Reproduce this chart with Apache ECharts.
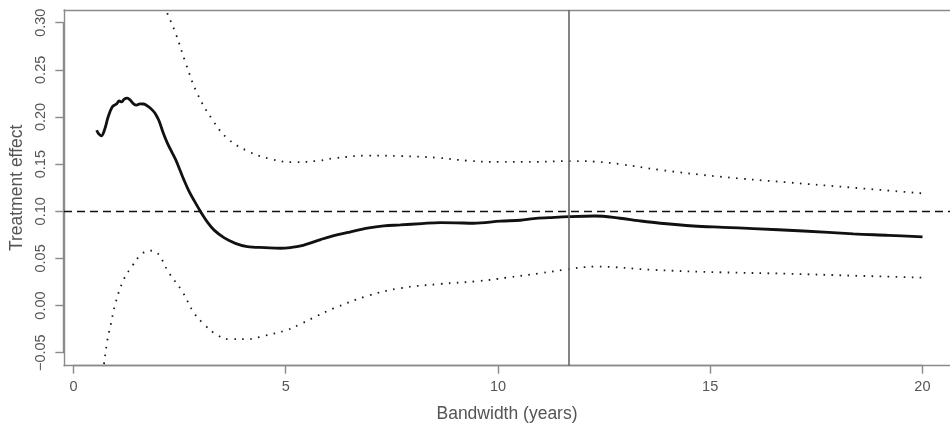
<!DOCTYPE html>
<html>
<head>
<meta charset="utf-8">
<script src="https://cdn.jsdelivr.net/npm/echarts@6/dist/echarts.min.js"></script>
<style>
  html, body { margin: 0; padding: 0; background: #fff; }
  #chart { width: 950px; height: 428px; }
</style>
</head>
<body>
<div id="chart"></div>
<script>
// ---- data ----
const estX = [0.53,0.58,0.64,0.72,0.80,0.90,1.00,1.06,1.12,1.18,1.25,1.32,1.40,1.47,1.55,1.64,1.75,1.85,1.92,2.00,2.10,2.20,2.30,2.39,2.50,2.59,2.70,2.82,2.98,3.15,3.30,3.53,3.80,4.08,4.50,4.86,5.10,5.34,5.81,6.04,6.50,6.91,7.30,7.69,8.20,8.63,9.00,9.42,10.05,10.52,10.83,11.20,11.66,12.28,12.87,13.30,13.82,14.60,15.30,16.01,17.19,18.37,19.20,20.00];
const estY = [0.186,0.182,0.180,0.187,0.200,0.211,0.214,0.217,0.216,0.219,0.220,0.218,0.214,0.2127,0.214,0.2138,0.211,0.207,0.203,0.196,0.183,0.172,0.163,0.155,0.143,0.133,0.122,0.112,0.0996,0.088,0.080,0.072,0.066,0.0625,0.0615,0.0608,0.0615,0.0632,0.070,0.0731,0.078,0.082,0.0845,0.0855,0.087,0.088,0.0878,0.0873,0.0895,0.0905,0.0922,0.0932,0.0943,0.095,0.0926,0.090,0.0873,0.0844,0.083,0.0816,0.0791,0.076,0.0745,0.0728];

const upperX = [2.05,2.18,2.39,2.63,2.90,3.26,3.61,4.12,4.63,5.18,5.77,6.12,6.91,7.69,8.56,9.26,10.05,10.60,11.74,12.30,12.87,13.82,15.23,16.80,18.37,20.00];
const upperY = [0.326,0.3117,0.289,0.257,0.225,0.197,0.1774,0.1632,0.1555,0.152,0.1537,0.1562,0.159,0.1586,0.1568,0.1537,0.1523,0.1523,0.1533,0.1526,0.150,0.1438,0.1367,0.1307,0.125,0.119];

const lowerX = [0.65,0.70,0.78,0.86,0.98,1.17,1.37,1.57,1.76,1.94,2.23,2.55,2.82,3.06,3.37,3.69,4.08,4.47,5.02,5.34,5.69,6.12,6.91,7.69,8.63,9.50,10.20,10.99,11.54,12.28,13.66,15.23,16.80,18.37,20.00];
const lowerY = [-0.079,-0.063,-0.0375,-0.0206,0.0035,0.0279,0.042,0.0537,0.0582,0.0565,0.035,0.0148,-0.0075,-0.0198,-0.0312,-0.0357,-0.0357,-0.0322,-0.0259,-0.0195,-0.0118,-0.0029,0.0102,0.0184,0.0229,0.0258,0.0296,0.0343,0.0378,0.0413,0.0378,0.0353,0.0338,0.0317,0.0296];

const refEffect = 0.10;        // dashed horizontal reference
const chosenBandwidth = 11.67; // vertical line

const xTicks = [0, 5, 10, 15, 20];
const xTickLabels = ['0', '5', '10', '15', '20'];
const yTicks = [-0.05, 0.00, 0.05, 0.10, 0.15, 0.20, 0.25, 0.30];
const yTickLabels = ['\u22120.05', '0.00', '0.05', '0.10', '0.15', '0.20', '0.25', '0.30'];

const xTitle = 'Bandwidth (years)';
const yTitle = 'Treatment effect';

// ---- build ----
const zip = (xs, ys) => xs.map((x, i) => [x, ys[i]]);
const FONT = 'Liberation Sans, Arial, Helvetica, sans-serif';
const AXIS_GREY = '#8a8a8a';
const TEXT_GREY = '#555555';
const boxLine = { show: true, onZero: false, lineStyle: { color: AXIS_GREY, width: 1.4 } };

function pick(ticks, labels) {
  return function (v) {
    const i = ticks.findIndex(t => Math.abs(t - v) < 1e-6);
    return i >= 0 ? labels[i] : '';
  };
}

const chart = echarts.init(document.getElementById('chart'), null, { renderer: 'canvas' });

chart.setOption({
  animation: false,
  backgroundColor: '#ffffff',
  grid: [
    { // plotting box (its right side lies at the picture edge, not drawn)
      left: 63.3, top: 10, right: 0, bottom: 62.3, show: false
    },
    { // tick frame (R style axes spanning first..last tick)
      left: 73.5, right: 27.6, top: 22.7, bottom: 75.3, show: false
    }
  ],
  xAxis: [
    {
      gridIndex: 0, type: 'value', min: -0.24, max: 20.648, position: 'bottom',
      axisLine: boxLine, axisTick: { show: false }, axisLabel: { show: false },
      splitLine: { show: false },
      name: xTitle, nameLocation: 'middle', nameGap: 39,
      nameTextStyle: { color: TEXT_GREY, fontSize: 17.5, fontFamily: FONT }
    },
    {
      gridIndex: 1, type: 'value', min: 0, max: 20, interval: 5, offset: 13, position: 'bottom',
      axisLine: { show: true, onZero: false, lineStyle: { color: AXIS_GREY, width: 1.4 } },
      axisTick: { show: true, length: 8, lineStyle: { color: AXIS_GREY, width: 1.4 } },
      axisLabel: { color: TEXT_GREY, fontSize: 14.5, fontFamily: FONT, margin: 14,
                   formatter: pick(xTicks, xTickLabels) },
      splitLine: { show: false }
    },
    { // top edge of the box
      gridIndex: 0, type: 'value', min: -0.24, max: 20.648, position: 'top',
      axisLine: boxLine, axisTick: { show: false }, axisLabel: { show: false },
      splitLine: { show: false }
    }
  ],
  yAxis: [
    {
      gridIndex: 0, type: 'value', min: -0.0638, max: 0.3135, position: 'left',
      axisLine: boxLine, axisTick: { show: false }, axisLabel: { show: false },
      splitLine: { show: false },
      name: yTitle, nameLocation: 'middle', nameGap: 38,
      nameTextStyle: { color: TEXT_GREY, fontSize: 17.5, fontFamily: FONT }
    },
    {
      gridIndex: 1, type: 'value', min: -0.05, max: 0.30, interval: 0.05, offset: 10.2, position: 'left',
      axisLine: { show: true, onZero: false, lineStyle: { color: AXIS_GREY, width: 1.4 } },
      axisTick: { show: true, length: 8, lineStyle: { color: AXIS_GREY, width: 1.4 } },
      axisLabel: { color: TEXT_GREY, fontSize: 14.5, fontFamily: FONT, margin: 15, rotate: 90,
                   formatter: pick(yTicks, yTickLabels) },
      splitLine: { show: false }
    }
  ],
  series: [
    {
      type: 'line', xAxisIndex: 0, yAxisIndex: 0, data: zip(upperX, upperY),
      showSymbol: false, smooth: 0.4, clip: true,
      lineStyle: { color: '#1a1a1a', width: 1.8, type: [1.6, 6.4], cap: 'butt' }
    },
    {
      type: 'line', xAxisIndex: 0, yAxisIndex: 0, data: zip(lowerX, lowerY),
      showSymbol: false, smooth: 0.4, clip: true,
      lineStyle: { color: '#1a1a1a', width: 1.8, type: [1.6, 6.4], cap: 'butt' }
    },
    {
      type: 'line', xAxisIndex: 0, yAxisIndex: 0, data: zip(estX, estY),
      showSymbol: false, smooth: 0.35, clip: true,
      lineStyle: { color: '#111111', width: 2.8 },
      markLine: {
        silent: true, symbol: 'none', label: { show: false },
        data: [
          { yAxis: refEffect, lineStyle: { color: '#111111', width: 1.3, type: [8, 5] } },
          { xAxis: chosenBandwidth, lineStyle: { color: '#666666', width: 1.6, type: 'solid' } }
        ]
      }
    }
  ]
});
</script>
</body>
</html>
